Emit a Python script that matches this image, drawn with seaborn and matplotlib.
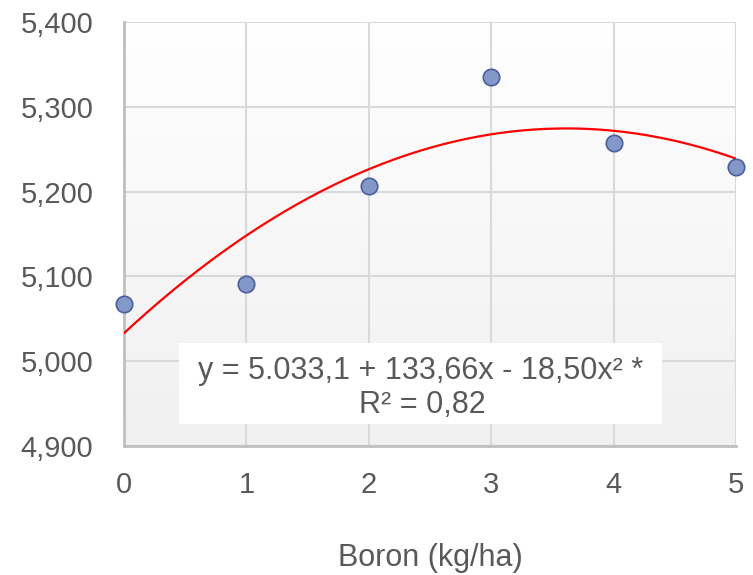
import numpy as np
import pandas as pd
import matplotlib
matplotlib.use("Agg")
import matplotlib.pyplot as plt
import seaborn as sns
from matplotlib.patches import Rectangle
from matplotlib.ticker import FuncFormatter

# =====================================================
# DATA
# =====================================================

boron = [0, 1, 2, 3, 4, 5]
yield_vals = [5067, 5091, 5207, 5335, 5257, 5229]

# quadratic trendline y = b0 + b1 x + b2 x^2
coefs = [5033.1, 133.66, -18.50]

x_ticks = [0, 1, 2, 3, 4, 5]
y_ticks = [4900, 5000, 5100, 5200, 5300, 5400]

eq_line = "y = 5.033,1 + 133,66x - 18,50x\u00b2 *"
r2_line = "R\u00b2 = 0,82"
x_label = "Boron (kg/ha)"

# =====================================================
# STYLE
# =====================================================

sns.set_theme(style="white")
plt.rcParams["font.family"] = ["Liberation Sans", "DejaVu Sans"]

TXT = "#595959"
GRID = "#d9d9d9"

fig = plt.figure(figsize=(7.53, 5.75), dpi=100)
ax = fig.add_axes([0.1647, 0.2243, 0.8127, 0.7374])

# gradient background (white top -> light grey bottom)
grad = np.linspace(1.0, 0.0, 256).reshape(-1, 1)
ax.imshow(
    grad,
    extent=[0, 1, 0, 1],
    transform=ax.transAxes,
    aspect="auto",
    cmap=matplotlib.colors.LinearSegmentedColormap.from_list(
        "bg", ["#f0f0f0", "#ffffff"]
    ),
    zorder=-2
)

# =====================================================
# DATA MARKS
# =====================================================

df = pd.DataFrame({"boron": boron, "yield": yield_vals})

xs = np.linspace(min(boron), max(boron), 200)
trend = pd.DataFrame({
    "x": xs,
    "y": coefs[0] + coefs[1] * xs + coefs[2] * xs ** 2
})

sns.lineplot(
    data=trend, x="x", y="y",
    color="#ff0000", linewidth=1.6, ax=ax, zorder=3
)

sns.scatterplot(
    data=df, x="boron", y="yield",
    s=140, color="#8497c9", edgecolor="#4a5f9c", linewidth=1.2,
    ax=ax, zorder=4
)
for c in ax.collections:
    c.set_clip_on(False)

# =====================================================
# AXES
# =====================================================

ax.set_xlim(0, 5)
ax.set_ylim(4900, 5400)
ax.set_xticks(x_ticks)
ax.set_yticks(y_ticks)
ax.yaxis.set_major_formatter(FuncFormatter(lambda v, p: f"{int(v):,}"))

ax.grid(True, color=GRID, linewidth=1.5)
ax.set_axisbelow(True)

for s in ["top", "right"]:
    ax.spines[s].set_visible(False)
for s in ["left", "bottom"]:
    ax.spines[s].set_color("#bfbfbf")
    ax.spines[s].set_linewidth(2)

ax.tick_params(axis="x", length=0, pad=18, labelsize=21, labelcolor=TXT)
ax.tick_params(axis="y", length=0, pad=22, labelsize=21, labelcolor=TXT)

ax.set_xlabel(x_label, fontsize=22, color=TXT, labelpad=32)
ax.set_ylabel("")

# =====================================================
# EQUATION BOX
# =====================================================

ax.add_patch(Rectangle(
    (0.0899, 0.052), 0.789, 0.191,
    transform=ax.transAxes, facecolor="white", edgecolor="none", zorder=2
))
ax.text(0.485, 0.176, eq_line, transform=ax.transAxes,
        ha="center", va="center", fontsize=22, color=TXT, zorder=5)
ax.text(0.487, 0.097, r2_line, transform=ax.transAxes,
        ha="center", va="center", fontsize=22, color=TXT, zorder=5)

fig.savefig("out.png", dpi=100)
